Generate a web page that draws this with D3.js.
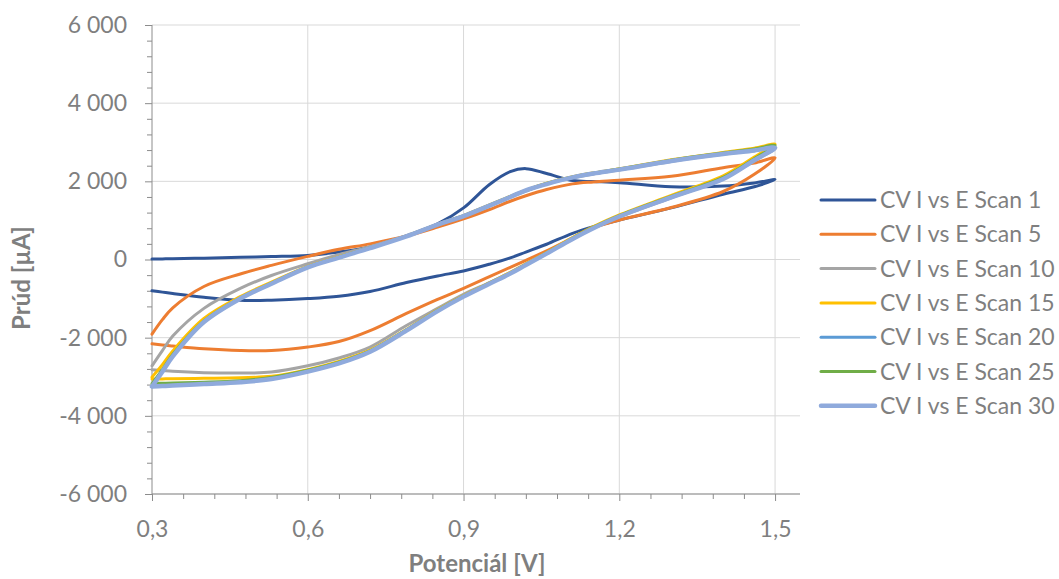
<!DOCTYPE html>
<html>
<head>
<meta charset="utf-8">
<script src="https://cdn.jsdelivr.net/npm/d3@7"></script>
<style>
    body { margin: 0; background: #fff; }
    text { font-family: Lato, 'Open Sans', sans-serif; fill: #7f7f7f; }
</style>
</head>
<body>
<svg id="chart" width="1059" height="579"></svg>
<script>
// potential grid used by every sweep (V), forward direction
let potential = [0.30, 0.32, 0.34, 0.40, 0.47, 0.53, 0.60, 0.66, 0.72, 0.79, 0.85, 0.90, 0.95, 0.99, 1.02, 1.06, 1.11, 1.15, 1.20, 1.30, 1.40, 1.46, 1.50]

// currents (µA) on the forward sweep, same order as potential
let scan1Fwd = [10, 15, 20, 35, 55, 75, 105, 190, 320, 600, 910, 1320, 1920, 2250, 2325, 2200, 2020, 1995, 1965, 1860, 1880, 1960, 2045]
let scan5Fwd = [-1910, -1540, -1236, -690, -370, -150, 80, 260, 400, 600, 830, 1040, 1280, 1490, 1630, 1790, 1935, 1985, 2030, 2130, 2350, 2470, 2600]
let scan10Fwd = [-2720, -2330, -1960, -1250, -740, -410, -110, 125, 330, 610, 900, 1110, 1380, 1600, 1750, 1930, 2090, 2190, 2290, 2510, 2690, 2780, 2850]
let scan15Fwd = [-3010, -2690, -2340, -1510, -950, -580, -175, 70, 305, 600, 900, 1125, 1395, 1615, 1770, 1950, 2115, 2215, 2320, 2550, 2740, 2850, 2950]
let scan20Fwd = [-3240, -2860, -2470, -1590, -995, -615, -195, 55, 295, 590, 890, 1115, 1385, 1605, 1760, 1940, 2100, 2200, 2300, 2525, 2705, 2800, 2870]
let scan25Fwd = [-3180, -2820, -2430, -1570, -985, -605, -190, 60, 300, 595, 895, 1120, 1390, 1610, 1765, 1945, 2110, 2210, 2315, 2540, 2725, 2830, 2920]
let scan30Fwd = [-3250, -2870, -2480, -1600, -1000, -620, -200, 50, 290, 590, 890, 1110, 1380, 1600, 1770, 1930, 2100, 2200, 2300, 2520, 2700, 2790, 2860]

// currents (µA) on the reverse sweep, same potential order (drawn back to front)
let scan1Rev = [-800, -835, -870, -965, -1045, -1040, -1000, -940, -820, -590, -420, -295, -120, 40, 190, 390, 670, 840, 1010, 1320, 1670, 1860, 2045]
let scan5Rev = [-2158, -2190, -2215, -2285, -2330, -2330, -2240, -2100, -1820, -1380, -1020, -740, -440, -200, -20, 220, 555, 810, 1010, 1330, 1740, 2180, 2600]
let scan10Rev = [-2820, -2840, -2860, -2895, -2905, -2880, -2720, -2520, -2240, -1690, -1250, -890, -590, -335, -125, 160, 530, 810, 1090, 1580, 2070, 2530, 2850]
let scan15Rev = [-3060, -3055, -3050, -3040, -3025, -2990, -2820, -2610, -2320, -1790, -1290, -925, -595, -330, -110, 180, 560, 840, 1140, 1640, 2140, 2620, 2950]
let scan20Rev = [-3240, -3228, -3215, -3180, -3135, -3055, -2865, -2655, -2355, -1815, -1315, -945, -615, -355, -135, 155, 530, 805, 1105, 1595, 2065, 2545, 2870]
let scan25Rev = [-3170, -3165, -3160, -3140, -3100, -3020, -2835, -2630, -2340, -1800, -1300, -935, -605, -345, -125, 170, 545, 820, 1120, 1615, 2100, 2580, 2920]
let scan30Rev = [-3250, -3238, -3225, -3185, -3140, -3060, -2870, -2660, -2360, -1820, -1320, -950, -620, -360, -140, 150, 525, 800, 1100, 1590, 2060, 2540, 2860]

let seriesNames = ['CV I vs E Scan 1', 'CV I vs E Scan 5', 'CV I vs E Scan 10', 'CV I vs E Scan 15',
    'CV I vs E Scan 20', 'CV I vs E Scan 25', 'CV I vs E Scan 30']
let seriesColors = ['#2f5597', '#ed7d31', '#a5a5a5', '#ffc000', '#5b9bd5', '#70ad47', '#8faadc']
let forward = [scan1Fwd, scan5Fwd, scan10Fwd, scan15Fwd, scan20Fwd, scan25Fwd, scan30Fwd]
let reverse = [scan1Rev, scan5Rev, scan10Rev, scan15Rev, scan20Rev, scan25Rev, scan30Rev]

let xTicks = [0.3, 0.6, 0.9, 1.2, 1.5]
let yTicks = [-6000, -4000, -2000, 0, 2000, 4000, 6000]

function main() {
    let svg = d3.select('#chart'),
        plot = {left: 152, right: 800, top: 25, bottom: 494},
        axisColor = '#8c8c8c',
        gridColor = '#d9d9d9'

    let xScale = d3.scaleLinear().domain([0.3, 1.548]).range([plot.left, plot.right])
    let yScale = d3.scaleLinear().domain([-6000, 6000]).range([plot.bottom, plot.top])

    // "6 000", "-2 000" with a plain hyphen like the original
    let fmtY = v => d3.format(',')(v).replace(/,/g, ' ').replace('\u2212', '-')
    let fmtX = v => d3.format('.1f')(v).replace('.', ',')

    // gridlines
    svg.append('g').selectAll('line')
        .data(yTicks)
        .enter()
        .append('line')
        .attr('x1', plot.left).attr('x2', plot.right)
        .attr('y1', d => yScale(d)).attr('y2', d => yScale(d))
        .attr('stroke', gridColor).attr('stroke-width', 1)

    svg.append('g').selectAll('line')
        .data(xTicks.slice(1))
        .enter()
        .append('line')
        .attr('x1', d => xScale(d)).attr('x2', d => xScale(d))
        .attr('y1', plot.top).attr('y2', plot.bottom)
        .attr('stroke', gridColor).attr('stroke-width', 1)

    // y axis with minor ticks every 400
    let yMinor = d3.range(-6000, 6001, 400).filter(v => v % 2000 !== 0)
    let yAxis = svg.append('g')
        .attr('class', 'axis')
        .attr('transform', 'translate(' + plot.left + ', 0)')
    yAxis.call(d3.axisLeft(yScale).tickValues(yTicks).tickSize(7).tickPadding(18).tickFormat(fmtY))
    yAxis.selectAll('line').attr('stroke', axisColor)
    yAxis.select('.domain').attr('stroke', axisColor).attr('d', 'M0,' + plot.top + 'V' + plot.bottom)
    yAxis.selectAll('text').attr('font-size', 23).attr('fill', '#7f7f7f').style('font-family', 'Lato, sans-serif')
    yAxis.selectAll('.minor')
        .data(yMinor)
        .enter()
        .append('line')
        .attr('class', 'minor')
        .attr('x1', -5).attr('x2', 0)
        .attr('y1', d => yScale(d) + 0.5).attr('y2', d => yScale(d) + 0.5)
        .attr('stroke', axisColor)

    // x axis with minor ticks every 0.06
    let xMinor = d3.range(1, 20).map(i => 0.3 + i * 0.06).filter((v, i) => (i + 1) % 5 !== 0)
    let xAxis = svg.append('g')
        .attr('class', 'axis')
        .attr('transform', 'translate(0, ' + plot.bottom + ')')
    xAxis.call(d3.axisBottom(xScale).tickValues(xTicks).tickSize(7).tickPadding(20).tickFormat(fmtX))
    xAxis.selectAll('line').attr('stroke', axisColor)
    xAxis.select('.domain').attr('stroke', axisColor).attr('d', 'M' + plot.left + ',0H' + plot.right)
    xAxis.selectAll('text').attr('font-size', 23).attr('fill', '#7f7f7f').style('font-family', 'Lato, sans-serif')
    xAxis.selectAll('.minor')
        .data(xMinor)
        .enter()
        .append('line')
        .attr('class', 'minor')
        .attr('x1', d => xScale(d) + 0.5).attr('x2', d => xScale(d) + 0.5)
        .attr('y1', 0).attr('y2', 5)
        .attr('stroke', axisColor)

    // axis titles
    svg.append('text')
        .attr('text-anchor', 'middle')
        .attr('x', (plot.left + plot.right) / 2 + 1)
        .attr('y', 572)
        .attr('font-size', 24)
        .attr('font-weight', 'bold')
        .text('Potenciál [V]')

    svg.append('text')
        .attr('text-anchor', 'middle')
        .attr('transform', 'translate(30, 278) rotate(-90)')
        .attr('font-size', 24)
        .attr('font-weight', 'bold')
        .text('Prúd [µA]')

    // curves: forward sweep then reverse sweep
    let line = d3.line()
        .x(d => xScale(d[0]))
        .y(d => yScale(d[1]))
        .curve(d3.curveCatmullRom.alpha(0.5))

    let loops = seriesNames.map((name, k) => {
        let pts = potential.map((e, i) => [e, forward[k][i]])
        for (let i = potential.length - 2; i >= 0; i--) {
            pts.push([potential[i], reverse[k][i]])
        }
        return {name: name, color: seriesColors[k], width: k === 6 ? 4.5 : 3, points: pts}
    })

    svg.append('g').selectAll('path')
        .data(loops)
        .enter()
        .append('path')
        .attr('d', d => line(d.points))
        .attr('fill', 'none')
        .attr('stroke', d => d.color)
        .attr('stroke-width', d => d.width)
        .attr('stroke-linejoin', 'round')
        .attr('stroke-linecap', 'round')

    // legend
    let legend = svg.append('g').selectAll('g')
        .data(loops)
        .enter()
        .append('g')
        .attr('transform', (d, i) => 'translate(821, ' + (200 + i * 34.3) + ')')
    legend.append('line')
        .attr('x1', 0).attr('x2', 54)
        .attr('stroke', d => d.color)
        .attr('stroke-width', d => d.width)
        .attr('stroke-linecap', 'round')
    legend.append('text')
        .attr('x', 59)
        .attr('dy', '0.35em')
        .attr('font-size', 23)
        .text(d => d.name)
}

main()
</script>
</body>
</html>
